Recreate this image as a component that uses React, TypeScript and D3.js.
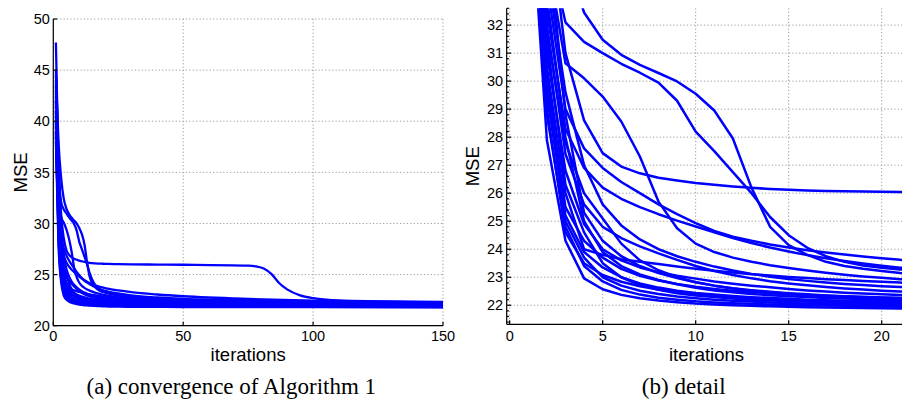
import React from 'react';
import * as d3 from 'd3';

// iteration index of every stored value
const ITERS = [1, 2, 3, 4, 5, 6, 7, 8, 9, 10, 11, 12, 13, 14, 15, 16, 17, 18, 19, 20, 21, 25, 30, 40, 50, 75, 100, 150];

// MSE per run (values at ITERS)
const runA = [44.5, 38.0, 34.5, 32.45, 31.48, 30.94, 30.58, 30.29, 29.99, 29.55, 28.95, 27.95, 26.2, 24.8, 24.15, 23.8, 23.55, 23.4, 23.3, 23.22, 23.15, 22.95, 22.78, 22.6, 22.5, 22.37, 22.28, 22.18];
const runB = [43.0, 35.0, 32.1, 31.4, 31.0, 30.62, 30.3, 29.95, 29.3, 28.2, 27.5, 26.75, 26.0, 25.15, 24.5, 24.05, 23.75, 23.55, 23.42, 23.34, 23.28, 23.05, 22.88, 22.7, 22.58, 22.44, 22.35, 22.25];
const runC = [42.0, 34.5, 30.64, 30.1, 29.45, 28.56, 27.31, 25.7, 24.75, 24.2, 23.9, 23.7, 23.55, 23.43, 23.33, 23.24, 23.16, 23.09, 23.03, 22.98, 22.93, 22.78, 22.65, 22.5, 22.4, 22.27, 22.19, 22.1];
const runD = [45.0, 36.5, 31.0, 28.6, 27.43, 26.95, 26.71, 26.55, 26.45, 26.36, 26.3, 26.24, 26.19, 26.15, 26.12, 26.1, 26.08, 26.07, 26.06, 26.05, 26.04, 26.02, 26.0, 25.98, 25.96, 25.87, 22.7, 22.3];
const runD_extraIters = [78, 81, 84, 87, 90, 95, 105, 110, 125];
const runD_extraValues = [25.8, 25.6, 25.05, 24.15, 23.55, 22.97, 22.55, 22.47, 22.38];
const runE1 = [42.5, 33.5, 29.0, 27.6, 26.9, 26.4, 26.0, 25.6, 25.25, 24.93, 24.65, 24.45, 24.3, 24.17, 24.06, 23.96, 23.88, 23.81, 23.74, 23.68, 23.62, 23.45, 23.28, 23.05, 22.88, 22.62, 22.46, 22.33];
const runE2 = [41.0, 32.5, 28.3, 26.9, 26.2, 25.8, 25.5, 25.25, 25.02, 24.81, 24.6, 24.4, 24.22, 24.06, 23.92, 23.79, 23.68, 23.58, 23.49, 23.41, 23.34, 23.15, 22.97, 22.76, 22.63, 22.46, 22.37, 22.28];
const runE3 = [40.0, 30.5, 26.0, 24.0, 23.8, 23.64, 23.55, 23.47, 23.38, 23.3, 23.23, 23.17, 23.11, 23.06, 23.01, 22.97, 22.93, 22.9, 22.87, 22.84, 22.81, 22.7, 22.6, 22.48, 22.4, 22.28, 22.2, 22.12];
const runE4 = [41.5, 32.0, 27.4, 25.6, 24.8, 24.4, 24.1, 23.85, 23.62, 23.4, 23.22, 23.08, 22.96, 22.86, 22.78, 22.71, 22.65, 22.6, 22.56, 22.52, 22.49, 22.4, 22.33, 22.24, 22.18, 22.1, 22.05, 21.99];
const runE5 = [39.5, 31.0, 26.8, 24.9, 24.0, 23.6, 23.35, 23.18, 23.05, 22.95, 22.85, 22.77, 22.7, 22.64, 22.58, 22.53, 22.49, 22.45, 22.42, 22.39, 22.37, 22.3, 22.25, 22.18, 22.13, 22.06, 22.02, 21.97];
const runE6 = [40.5, 30.0, 25.5, 24.3, 23.7, 23.3, 23.05, 22.88, 22.76, 22.66, 22.58, 22.52, 22.47, 22.43, 22.39, 22.36, 22.33, 22.3, 22.28, 22.26, 22.25, 22.2, 22.16, 22.1, 22.06, 22.0, 21.97, 21.93];
const runE7 = [43.5, 33.0, 28.0, 25.0, 23.9, 23.4, 23.1, 22.9, 22.75, 22.62, 22.53, 22.46, 22.4, 22.36, 22.32, 22.29, 22.26, 22.24, 22.22, 22.2, 22.19, 22.15, 22.12, 22.07, 22.03, 21.98, 21.95, 21.92];
const runE8 = [38.5, 29.5, 25.2, 23.9, 23.35, 23.0, 22.78, 22.63, 22.52, 22.44, 22.38, 22.33, 22.29, 22.26, 22.23, 22.2, 22.18, 22.16, 22.15, 22.14, 22.13, 22.1, 22.07, 22.03, 22.0, 21.96, 21.93, 21.9];
const runE9 = [42.0, 31.5, 26.3, 24.6, 23.5, 23.0, 22.72, 22.55, 22.43, 22.35, 22.29, 22.24, 22.2, 22.17, 22.15, 22.13, 22.11, 22.1, 22.09, 22.08, 22.07, 22.05, 22.03, 22.0, 21.98, 21.94, 21.91, 21.88];
const runE10 = [40.0, 30.2, 25.0, 23.7, 23.0, 22.7, 22.52, 22.4, 22.31, 22.25, 22.2, 22.16, 22.13, 22.1, 22.08, 22.06, 22.05, 22.04, 22.03, 22.02, 22.01, 21.99, 21.97, 21.95, 21.93, 21.9, 21.88, 21.85];
const runE11 = [39.0, 28.8, 24.8, 23.4, 22.85, 22.55, 22.38, 22.27, 22.2, 22.14, 22.1, 22.07, 22.05, 22.03, 22.01, 22.0, 21.99, 21.98, 21.97, 21.96, 21.95, 21.93, 21.91, 21.89, 21.88, 21.86, 21.84, 21.82];
const runE12 = [44.0, 34.0, 29.6, 27.0, 25.6, 24.85, 24.35, 24.0, 23.75, 23.55, 23.38, 23.24, 23.12, 23.02, 22.94, 22.87, 22.81, 22.76, 22.72, 22.68, 22.65, 22.55, 22.46, 22.36, 22.29, 22.18, 22.11, 22.04];
const runE13 = [41.0, 31.8, 27.8, 26.0, 25.1, 24.2, 23.6, 23.25, 23.0, 22.82, 22.7, 22.6, 22.52, 22.46, 22.41, 22.37, 22.34, 22.31, 22.29, 22.27, 22.26, 22.2, 22.16, 22.11, 22.07, 22.02, 21.98, 21.94];
const runE14 = [47.7, 35.5, 28.8, 25.3, 24.3, 23.75, 23.4, 23.15, 22.97, 22.82, 22.7, 22.61, 22.54, 22.48, 22.43, 22.39, 22.35, 22.32, 22.3, 22.28, 22.26, 22.2, 22.17, 22.12, 22.08, 22.03, 21.99, 21.95];
const runL1 = [38.0, 27.9, 24.3, 22.96, 22.57, 22.37, 22.25, 22.17, 22.11, 22.06, 22.03, 22.0, 21.98, 21.96, 21.95, 21.93, 21.92, 21.91, 21.9, 21.89, 21.88, 21.86, 21.85, 21.84, 21.83, 21.82, 21.81, 21.8];
const runL2 = [39.0, 29.0, 24.6, 23.5, 23.08, 22.84, 22.68, 22.56, 22.47, 22.4, 22.34, 22.29, 22.25, 22.21, 22.18, 22.15, 22.13, 22.11, 22.09, 22.07, 22.06, 22.03, 22.0, 21.97, 21.95, 21.92, 21.9, 21.87];

const RUNS = [runA, runB, runC, runD, runE1, runE2, runE3, runE4, runE5, runE6, runE7, runE8, runE9, runE10, runE11, runE12, runE13, runE14, runL1, runL2];

const LEFT_X_TICKS = [0, 50, 100, 150];
const LEFT_Y_TICKS = [20, 25, 30, 35, 40, 45, 50];
const RIGHT_X_TICKS = [0, 5, 10, 15, 20];
const RIGHT_Y_TICKS = [22, 23, 24, 25, 26, 27, 28, 29, 30, 31, 32];

const BLUE = '#0000ff';
const GRID = '#9a9a9a';
const SANS = '"Liberation Sans", Arial, Helvetica, sans-serif';
const SERIF = '"Liberation Serif", "Times New Roman", serif';

function runPoints(run: number[]): [number, number][] {
  const pts: [number, number][] = ITERS.map((it, i) => [it, run[i]]);
  if (run === runD) {
    runD_extraIters.forEach((it, i) => pts.push([it, runD_extraValues[i]]));
    pts.sort((a, b) => a[0] - b[0]);
  }
  return pts;
}

export default function App() {
  // left panel
  const L = { x0: 53.3, x1: 443, y0: 19, y1: 325.7 };
  const xL = d3.scaleLinear().domain([0, 150]).range([L.x0, L.x1]);
  const yL = d3.scaleLinear().domain([20, 50]).range([L.y1, L.y0]);
  const lineL = d3.line<[number, number]>().x(d => xL(d[0])).y(d => yL(d[1])).curve(d3.curveMonotoneX);

  // right panel
  const R = { x0: 506.7, x1: 904, y0: 8.3, y1: 324.3 };
  const xR = d3.scaleLinear().domain([-0.16, 21.2]).range([R.x0, R.x1]);
  const yR = d3.scaleLinear().domain([21.32, 32.6]).range([R.y1, R.y0]);
  const lineR = d3.line<[number, number]>().x(d => xR(d[0])).y(d => yR(d[1]));
  const minorR = d3.range(21.4, 32.6, 0.2).filter(v => Math.abs(v - Math.round(v)) > 0.05);

  const dash = '1.2,2.2';
  const tickFont = 14.5;
  const labelFont = 18.5;
  const tickBase = 341;
  const labelBase = 361;

  return (
    <svg width={902} height={403} style={{ position: 'absolute', left: 0, top: 0, background: '#fff' }}
      fontFamily={SANS}>
      <rect x={0} y={0} width={902} height={403} fill="#fff" />
      <defs>
        <clipPath id="clipR">
          <rect x={R.x0} y={R.y0} width={R.x1 - R.x0} height={R.y1 - R.y0} />
        </clipPath>
        <clipPath id="clipL">
          <rect x={L.x0} y={L.y0} width={L.x1 - L.x0} height={L.y1 - L.y0} />
        </clipPath>
      </defs>

      {/* LEFT grid */}
      <g stroke={GRID} strokeWidth={1} strokeDasharray={dash} fill="none">
        {LEFT_Y_TICKS.map(t => <line key={'ly' + t} x1={L.x0} x2={L.x1} y1={yL(t)} y2={yL(t)} />)}
        {LEFT_X_TICKS.map(t => <line key={'lx' + t} x1={xL(t)} x2={xL(t)} y1={L.y0} y2={L.y1} />)}
      </g>
      {/* LEFT lines */}
      <g clipPath="url(#clipL)" fill="none" stroke={BLUE} strokeWidth={2.3} strokeLinejoin="round">
        {RUNS.map((r, i) => <path key={'l' + i} d={lineL(runPoints(r)) || ''} />)}
      </g>
      {/* LEFT axes */}
      <g stroke="#000" strokeWidth={1.2}>
        <line x1={L.x0} x2={L.x0} y1={L.y0} y2={L.y1} />
        <line x1={L.x0} x2={L.x1} y1={L.y1} y2={L.y1} />
        {LEFT_Y_TICKS.map(t => <line key={'lyt' + t} x1={L.x0} x2={L.x0 + 4} y1={yL(t)} y2={yL(t)} />)}
        {LEFT_X_TICKS.map(t => <line key={'lxt' + t} x1={xL(t)} x2={xL(t)} y1={L.y1} y2={L.y1 - 4} />)}
      </g>
      <g fontSize={tickFont} fill="#000">
        {LEFT_Y_TICKS.map(t => (
          <text key={'lyl' + t} x={L.x0 - 3.5} y={yL(t)} dy="0.36em" textAnchor="end">{t}</text>
        ))}
        {LEFT_X_TICKS.map(t => (
          <text key={'lxl' + t} x={xL(t)} y={tickBase} textAnchor="middle">{t}</text>
        ))}
      </g>
      <text x={(L.x0 + L.x1) / 2} y={labelBase} textAnchor="middle" fontSize={labelFont}>iterations</text>
      <text transform={`translate(26.6,${(L.y0 + L.y1) / 2}) rotate(-90)`} textAnchor="middle" fontSize={labelFont}>MSE</text>

      {/* RIGHT grid */}
      <g stroke={GRID} strokeWidth={1} strokeDasharray={dash} fill="none">
        {RIGHT_Y_TICKS.map(t => <line key={'ry' + t} x1={R.x0} x2={R.x1} y1={yR(t)} y2={yR(t)} />)}
        {RIGHT_X_TICKS.map(t => <line key={'rx' + t} x1={xR(t)} x2={xR(t)} y1={R.y0} y2={R.y1} />)}
      </g>
      {/* RIGHT lines */}
      <g clipPath="url(#clipR)" fill="none" stroke={BLUE} strokeWidth={2.5} strokeLinejoin="round">
        {RUNS.map((r, i) => <path key={'r' + i} d={lineR(runPoints(r).filter(p => p[0] <= 25)) || ''} />)}
      </g>
      {/* RIGHT axes */}
      <g stroke="#000" strokeWidth={1.2}>
        <line x1={R.x0} x2={R.x0} y1={R.y0} y2={R.y1} />
        <line x1={R.x0} x2={R.x1} y1={R.y1} y2={R.y1} />
        {RIGHT_Y_TICKS.map(t => <line key={'ryt' + t} x1={R.x0} x2={R.x0 + 4.5} y1={yR(t)} y2={yR(t)} />)}
        {minorR.map((t, i) => <line key={'rym' + i} x1={R.x0} x2={R.x0 + 2.2} y1={yR(t)} y2={yR(t)} />)}
        {RIGHT_X_TICKS.map(t => <line key={'rxt' + t} x1={xR(t)} x2={xR(t)} y1={R.y1} y2={R.y1 - 4} />)}
      </g>
      <g fontSize={tickFont} fill="#000">
        {RIGHT_Y_TICKS.map(t => (
          <text key={'ryl' + t} x={R.x0 - 3.5} y={yR(t)} dy="0.36em" textAnchor="end">{t}</text>
        ))}
        {RIGHT_X_TICKS.map(t => (
          <text key={'rxl' + t} x={xR(t)} y={tickBase} textAnchor="middle">{t}</text>
        ))}
      </g>
      <text x={706.5} y={labelBase} textAnchor="middle" fontSize={labelFont}>iterations</text>
      <text transform={`translate(479.3,${(R.y0 + R.y1) / 2}) rotate(-90)`} textAnchor="middle" fontSize={labelFont}>MSE</text>

      {/* captions */}
      <g fontFamily={SERIF} fontSize={23} fill="#000">
        <text x={231.3} y={394} textAnchor="middle">(a) convergence of Algorithm 1</text>
        <text x={683.7} y={394} textAnchor="middle">(b) detail</text>
      </g>
    </svg>
  );
}
